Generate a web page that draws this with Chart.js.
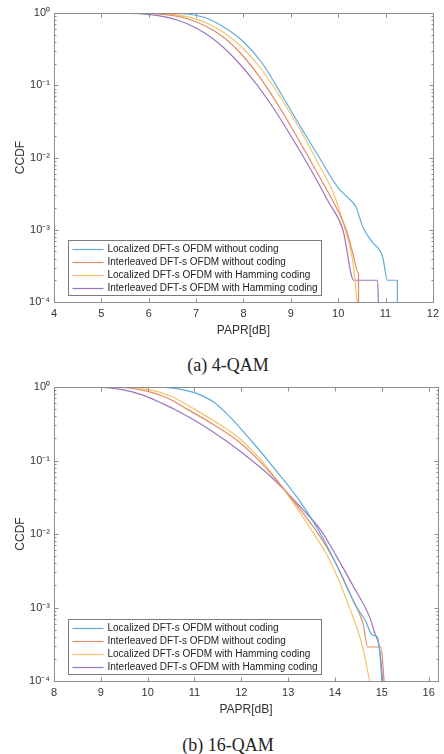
<!DOCTYPE html>
<html>
<head>
<meta charset="utf-8">
<script src="https://cdn.jsdelivr.net/npm/chart.js@4.4.1/dist/chart.umd.min.js"></script>
<style>
  body { margin: 0; background: #fff; width: 444px; height: 754px; position: relative; overflow: hidden; }
  .wrap { position: absolute; left: 0; width: 444px; }
  .cap { position: absolute; left: 0; width: 456px; text-align: center; font: 18px "Liberation Serif", serif; color: #222; }
</style>
</head>
<body>
<div class="wrap" style="top:0;height:345px"><canvas id="qam4"></canvas></div>
<div class="cap" style="top:355px">(a) 4-QAM</div>
<div class="wrap" style="top:374px;height:350px"><canvas id="qam16"></canvas></div>
<div class="cap" style="top:735px">(b) 16-QAM</div>
<script>
const seriesNames = [
  'Localized DFT-s OFDM without coding',
  'Interleaved DFT-s OFDM without coding',
  'Localized DFT-s OFDM with Hamming coding',
  'Interleaved DFT-s OFDM with Hamming coding'
];
const colors = ['#5eacdd', '#e58a66', '#f2c46c', '#9d75bd'];
const yTickValues = [1, 0.1, 0.01, 0.001, 0.0001];
const yTickLabels = ['10⁰', '10⁻¹', '10⁻²', '10⁻³', '10⁻⁴'];

// (a) 4-QAM
const qam4LocPapr = [4, 6.4, 6.8, 7.2, 7.6, 8.0, 8.4, 8.8, 9.2, 9.6, 10.0, 10.2, 10.37, 10.52, 10.7, 10.94, 11.04, 11.25, 11.25];
const qam4LocCcdf = [1, 0.998, 0.97, 0.86, 0.63, 0.4, 0.2, 0.075, 0.027, 0.01, 0.0038, 0.0028, 0.0021, 0.0011, 0.0007, 0.00042, 0.0002, 0.0002, 0.0001];
const qam4IntPapr = [4, 5.6, 6.0, 6.4, 6.8, 7.2, 7.6, 8.0, 8.4, 8.8, 9.2, 9.6, 10.0, 10.17, 10.3, 10.43, 10.43];
const qam4IntCcdf = [1, 0.998, 0.985, 0.94, 0.84, 0.66, 0.45, 0.25, 0.115, 0.045, 0.016, 0.0055, 0.0018, 0.001, 0.0005, 0.00025, 0.0001];
const qam4LocHamPapr = [4, 6.0, 6.4, 6.8, 7.2, 7.6, 8.0, 8.4, 8.8, 9.2, 9.6, 9.9, 10.15, 10.3, 10.4];
const qam4LocHamCcdf = [1, 0.995, 0.97, 0.89, 0.74, 0.53, 0.32, 0.16, 0.065, 0.024, 0.0078, 0.0032, 0.001, 0.0004, 0.0001];
const qam4IntHamPapr = [4, 5.4, 5.8, 6.2, 6.6, 7.0, 7.4, 7.8, 8.2, 8.6, 9.0, 9.4, 9.8, 10.1, 10.33, 10.83, 10.85];
const qam4IntHamCcdf = [1, 0.998, 0.98, 0.92, 0.8, 0.62, 0.42, 0.24, 0.12, 0.052, 0.02, 0.0072, 0.0024, 0.001, 0.0002, 0.0002, 0.0001];

// (b) 16-QAM
const qam16LocPapr = [8, 10.2, 10.5, 11.0, 11.4, 11.7, 12.2, 12.8, 13.25, 13.65, 14.0, 14.45, 14.65, 14.8, 14.9, 14.97, 15.0];
const qam16LocCcdf = [1, 0.998, 0.975, 0.84, 0.63, 0.427, 0.19, 0.066, 0.028, 0.0112, 0.0042, 0.00105, 0.00066, 0.00042, 0.0004, 0.0002, 0.0001];
const qam16IntPapr = [8, 9.2, 9.8, 10.4, 10.84, 11.4, 11.9, 12.3, 12.8, 13.2, 13.6, 14.0, 14.4, 14.6, 14.7, 14.98, 15.05];
const qam16IntCcdf = [1, 0.995, 0.93, 0.72, 0.5, 0.31, 0.19, 0.112, 0.05, 0.024, 0.011, 0.0042, 0.0012, 0.0006, 0.00029, 0.00029, 0.0001];
const qam16LocHamPapr = [8, 9.5, 10.0, 10.5, 11.0, 11.5, 12.0, 12.4, 12.99, 13.4, 13.88, 14.31, 14.59, 14.74];
const qam16LocHamCcdf = [1, 0.992, 0.93, 0.75, 0.5, 0.32, 0.19, 0.105, 0.034, 0.014, 0.0045, 0.001, 0.00029, 0.0001];
const qam16IntHamPapr = [8, 8.8, 9.4, 9.9, 10.3, 10.8, 11.2, 11.65, 12.07, 12.6, 13.0, 13.3, 13.7, 14.03, 14.38, 14.74, 14.85, 14.95, 15.02];
const qam16IntHamCcdf = [1, 0.995, 0.933, 0.776, 0.603, 0.417, 0.295, 0.19, 0.12, 0.063, 0.035, 0.022, 0.0112, 0.005, 0.002, 0.00074, 0.00045, 0.00028, 0.0001];

const FONT = '"Liberation Sans", Arial, sans-serif';

// box, inward ticks and legend, MATLAB style
const frame = {
  id: 'frame',
  afterDatasetsDraw(chart) {
    const { ctx, chartArea: a, scales } = chart;
    const L = Math.round(a.left) + 0.5, R = Math.round(a.right) + 0.5;
    const T = Math.round(a.top) + 0.5, B = Math.round(a.bottom) + 0.5;
    ctx.save();
    ctx.strokeStyle = '#8c8c8c';
    ctx.lineWidth = 1;
    ctx.strokeRect(L, T, R - L, B - T);
    ctx.beginPath();
    scales.x.ticks.forEach(t => {
      const px = Math.round(scales.x.getPixelForValue(t.value)) + 0.5;
      ctx.moveTo(px, B); ctx.lineTo(px, B - 4);
      ctx.moveTo(px, T); ctx.lineTo(px, T + 4);
    });
    for (let e = -4; e <= 0; e++) {
      for (let m = 1; m <= 9; m++) {
        const v = m * Math.pow(10, e);
        if (v > 1) break;
        const py = Math.round(scales.y.getPixelForValue(v)) + 0.5;
        const len = m === 1 ? 4 : 2;
        ctx.moveTo(L, py); ctx.lineTo(L + len, py);
        ctx.moveTo(R, py); ctx.lineTo(R - len, py);
      }
    }
    ctx.stroke();

    // legend
    ctx.font = '10px ' + FONT;
    const tw = Math.max(...seriesNames.map(s => ctx.measureText(s).width));
    const bx = Math.round(a.left) + 14.5, bw = Math.round(tw + 43);
    const bh = 55, by = Math.round(a.bottom) - 7 - bh + 0.5;
    ctx.fillStyle = '#fff';
    ctx.fillRect(bx, by, bw, bh);
    ctx.strokeStyle = '#7a7a7a';
    ctx.strokeRect(bx, by, bw, bh);
    chart.data.datasets.forEach((ds, i) => {
      const yy = by + 9 + i * 13;
      ctx.strokeStyle = ds.borderColor;
      ctx.lineWidth = 1.2;
      ctx.beginPath();
      ctx.moveTo(bx + 4, yy); ctx.lineTo(bx + 35, yy);
      ctx.stroke();
      ctx.fillStyle = '#222';
      ctx.textBaseline = 'middle';
      ctx.fillText(ds.label, bx + 39, yy);
    });
    ctx.restore();
  }
};

function toPoints(xs, ys) {
  return xs.map((x, j) => ({ x: x, y: ys[j] }));
}

function makeChart(id, pairs, xMin, xMax) {
  return new Chart(document.getElementById(id), {
    type: 'line',
    data: {
      datasets: pairs.map((p, i) => ({
        label: seriesNames[i],
        data: toPoints(p[0], p[1]),
        borderColor: colors[i],
        backgroundColor: colors[i],
        borderWidth: 1.2,
        pointRadius: 0,
        cubicInterpolationMode: 'monotone',
        fill: false
      }))
    },
    options: {
      animation: false,
      responsive: true,
      maintainAspectRatio: false,
      layout: { padding: { top: 13, right: 6, left: 0, bottom: 0 } },
      plugins: { legend: { display: false }, tooltip: { enabled: false } },
      scales: {
        x: {
          type: 'linear', min: xMin, max: xMax,
          grid: { display: false, drawTicks: false },
          border: { display: false },
          ticks: { stepSize: 1, includeBounds: false, maxRotation: 0, padding: 5, color: '#333', font: { family: FONT, size: 11 } },
          title: { display: true, text: 'PAPR[dB]', color: '#333', font: { family: FONT, size: 12 }, padding: { top: 0, bottom: 7 } },
          afterFit(s) { s.height = 43; }
        },
        y: {
          type: 'logarithmic', min: 1e-4, max: 1,
          grid: { display: false, drawTicks: false },
          border: { display: false },
          afterBuildTicks(s) { s.ticks = yTickValues.map(v => ({ value: v })); },
          ticks: {
            padding: 4, color: '#333', font: { family: FONT, size: 11 },
            callback: v => yTickLabels[yTickValues.indexOf(v)]
          },
          title: { display: true, text: 'CCDF', color: '#333', font: { family: FONT, size: 12 }, padding: { top: 13, bottom: 0 } },
          afterFit(s) { s.width = 54; }
        }
      }
    },
    plugins: [frame]
  });
}

makeChart('qam4', [
  [qam4LocPapr, qam4LocCcdf],
  [qam4IntPapr, qam4IntCcdf],
  [qam4LocHamPapr, qam4LocHamCcdf],
  [qam4IntHamPapr, qam4IntHamCcdf]
], 4, 12);

makeChart('qam16', [
  [qam16LocPapr, qam16LocCcdf],
  [qam16IntPapr, qam16IntCcdf],
  [qam16LocHamPapr, qam16LocHamCcdf],
  [qam16IntHamPapr, qam16IntHamCcdf]
], 8, 16.2);
</script>
</body>
</html>
